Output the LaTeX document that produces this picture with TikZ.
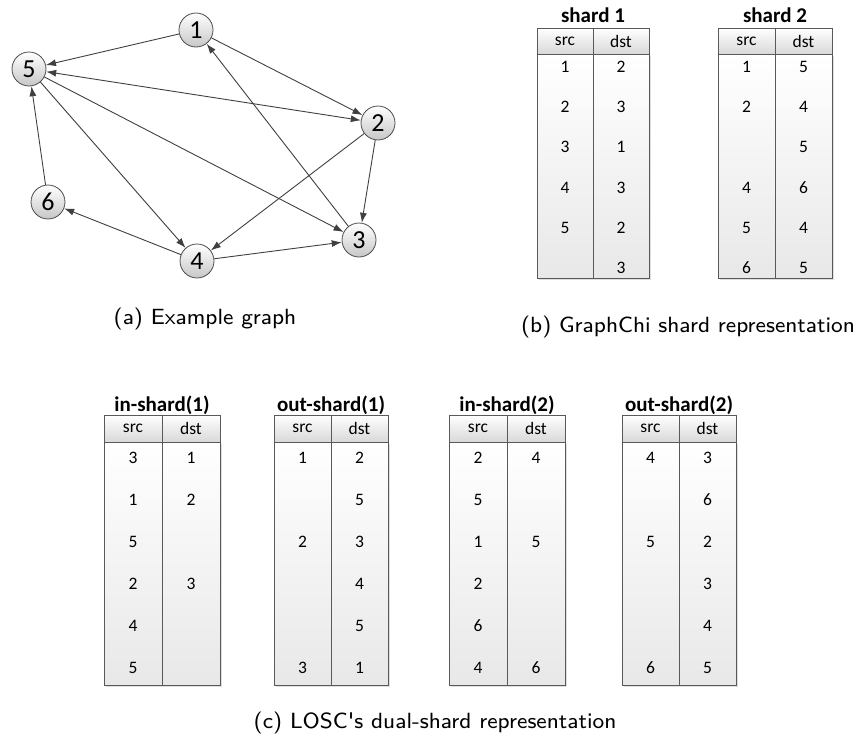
\documentclass[tikz,border=0pt]{standalone}
\usepackage{fontspec}
\setmainfont{Carlito}
\newfontfamily\capfont{lmsans8-regular.otf}
\usetikzlibrary{arrows.meta}
\usetikzlibrary{shadows}

\tikzset{
  vertex/.style={circle, draw=black!70, line width=0.8pt, top color=white, bottom color=black!22, minimum size=34pt, inner sep=0pt, font=\fontsize{26}{26}\selectfont},
  link/.style={draw=black!75, line width=0.9pt, ->},
  headcell/.style={draw=black!65, line width=1pt, top color=white, bottom color=black!15, minimum height=26pt, inner sep=0pt, font=\fontsize{17.5}{17.5}\selectfont},
  bodycol/.style={draw=black!65, line width=1pt, top color=white, bottom color=black!9, inner sep=0pt, drop shadow={shadow xshift=2pt, shadow yshift=-2pt, opacity=0.25}},
  cell/.style={inner sep=0pt, font=\fontsize{17.5}{17.5}\selectfont},
  shardtitle/.style={anchor=base, font=\bfseries\fontsize{21}{21}\selectfont},
  caption/.style={font=\capfont\fontsize{22}{22}\selectfont}
}

\begin{document}
\begin{tikzpicture}[x=1pt, y=-1pt, >={Latex[length=10pt,width=7pt]}]
                \useasboundingbox (0,0) rectangle (861,742);
                % example graph
                \node[vertex] (v1) at (196,30) {1};
                \node[vertex] (v5) at (29,69) {5};
                \node[vertex] (v2) at (378,123) {2};
                \node[vertex] (v6) at (48,202) {6};
                \node[vertex] (v3) at (359,240) {3};
                \node[vertex] (v4) at (197,261) {4};
                \draw[link] (v1) -- (v5);
                \draw[link] (v1) -- (v2);
                \draw[link, <->] (v5) -- (v2);
                \draw[link] (v2) -- (v3);
                \draw[link] (v2) -- (v4);
                \draw[link] (v3) -- (v1);
                \draw[link] (v4) -- (v3);
                \draw[link] (v4) -- (v6);
                \draw[link] (v5) -- (v3);
                \draw[link] (v5) -- (v4);
                \draw[link] (v6) -- (v5);
                \node[caption] (capa) at (205,319) {(a) Example graph};

                % shard 1
                \node[shardtitle] (s1title) at (593,22) {shard 1};
                \node[bodycol, minimum width=56pt, minimum height=224pt] (s1cs) at (565,166) {};
                \node[bodycol, minimum width=56pt, minimum height=224pt] (s1cd) at (621,166) {};
                \node[headcell, minimum width=56pt] (s1hs) at (565,41) {src};
                \node[headcell, minimum width=56pt] (s1hd) at (621,41) {dst};
                \node[cell] (s1src1) at (565,67) {1};
                \node[cell] (s1src2) at (565,107) {2};
                \node[cell] (s1src3) at (565,147) {3};
                \node[cell] (s1src4) at (565,188) {4};
                \node[cell] (s1src5) at (565,228) {5};
                \node[cell] (s1dst1) at (621,67) {2};
                \node[cell] (s1dst2) at (621,107) {3};
                \node[cell] (s1dst3) at (621,147) {1};
                \node[cell] (s1dst4) at (621,188) {3};
                \node[cell] (s1dst5) at (621,228) {2};
                \node[cell] (s1dst6) at (621,268) {3};

                % shard 2
                \node[shardtitle] (s2title) at (775,22) {shard 2};
                \node[bodycol, minimum width=57pt, minimum height=224pt] (s2cs) at (746.5,166) {};
                \node[bodycol, minimum width=57pt, minimum height=224pt] (s2cd) at (803.5,166) {};
                \node[headcell, minimum width=57pt] (s2hs) at (746.5,41) {src};
                \node[headcell, minimum width=57pt] (s2hd) at (803.5,41) {dst};
                \node[cell] (s2src1) at (746.5,67) {1};
                \node[cell] (s2src2) at (746.5,107) {2};
                \node[cell] (s2src4) at (746.5,188) {4};
                \node[cell] (s2src5) at (746.5,228) {5};
                \node[cell] (s2src6) at (746.5,268) {6};
                \node[cell] (s2dst1) at (803.5,67) {5};
                \node[cell] (s2dst2) at (803.5,107) {4};
                \node[cell] (s2dst3) at (803.5,147) {5};
                \node[cell] (s2dst4) at (803.5,188) {6};
                \node[cell] (s2dst5) at (803.5,228) {4};
                \node[cell] (s2dst6) at (803.5,268) {5};
                \node[caption] (capb) at (688,327) {(b) GraphChi shard representation};

                % in-shard(1)
                \node[shardtitle] (is1title) at (162,411) {in-shard(1)};
                \node[bodycol, minimum width=58pt, minimum height=243pt] (is1cs) at (133,563.5) {};
                \node[bodycol, minimum width=58pt, minimum height=243pt] (is1cd) at (191,563.5) {};
                \node[headcell, minimum width=58pt, minimum height=27pt] (is1hs) at (133,428.5) {src};
                \node[headcell, minimum width=58pt, minimum height=27pt] (is1hd) at (191,428.5) {dst};
                \node[cell] (is1src1) at (133,458) {3};
                \node[cell] (is1src2) at (133,500) {1};
                \node[cell] (is1src3) at (133,542) {5};
                \node[cell] (is1src4) at (133,584) {2};
                \node[cell] (is1src5) at (133,626) {4};
                \node[cell] (is1src6) at (133,668) {5};
                \node[cell] (is1dst1) at (191,458) {1};
                \node[cell] (is1dst2) at (191,500) {2};
                \node[cell] (is1dst4) at (191,584) {3};

                % out-shard(1)
                \node[shardtitle] (os1title) at (331,411) {out-shard(1)};
                \node[bodycol, minimum width=57pt, minimum height=243pt] (os1cs) at (302.5,563.5) {};
                \node[bodycol, minimum width=57pt, minimum height=243pt] (os1cd) at (359.5,563.5) {};
                \node[headcell, minimum width=57pt, minimum height=27pt] (os1hs) at (302.5,428.5) {src};
                \node[headcell, minimum width=57pt, minimum height=27pt] (os1hd) at (359.5,428.5) {dst};
                \node[cell] (os1src1) at (302.5,458) {1};
                \node[cell] (os1src3) at (302.5,542) {2};
                \node[cell] (os1src6) at (302.5,668) {3};
                \node[cell] (os1dst1) at (359.5,458) {2};
                \node[cell] (os1dst2) at (359.5,500) {5};
                \node[cell] (os1dst3) at (359.5,542) {3};
                \node[cell] (os1dst4) at (359.5,584) {4};
                \node[cell] (os1dst5) at (359.5,626) {5};
                \node[cell] (os1dst6) at (359.5,668) {1};

                % in-shard(2)
                \node[shardtitle] (is2title) at (507,411) {in-shard(2)};
                \node[bodycol, minimum width=58pt, minimum height=243pt] (is2cs) at (478,563.5) {};
                \node[bodycol, minimum width=58pt, minimum height=243pt] (is2cd) at (536,563.5) {};
                \node[headcell, minimum width=58pt, minimum height=27pt] (is2hs) at (478,428.5) {src};
                \node[headcell, minimum width=58pt, minimum height=27pt] (is2hd) at (536,428.5) {dst};
                \node[cell] (is2src1) at (478,458) {2};
                \node[cell] (is2src2) at (478,500) {5};
                \node[cell] (is2src3) at (478,542) {1};
                \node[cell] (is2src4) at (478,584) {2};
                \node[cell] (is2src5) at (478,626) {6};
                \node[cell] (is2src6) at (478,668) {4};
                \node[cell] (is2dst1) at (536,458) {4};
                \node[cell] (is2dst3) at (536,542) {5};
                \node[cell] (is2dst6) at (536,668) {6};

                % out-shard(2)
                \node[shardtitle] (os2title) at (679,411) {out-shard(2)};
                \node[bodycol, minimum width=57pt, minimum height=243pt] (os2cs) at (650.5,563.5) {};
                \node[bodycol, minimum width=57pt, minimum height=243pt] (os2cd) at (707.5,563.5) {};
                \node[headcell, minimum width=57pt, minimum height=27pt] (os2hs) at (650.5,428.5) {src};
                \node[headcell, minimum width=57pt, minimum height=27pt] (os2hd) at (707.5,428.5) {dst};
                \node[cell] (os2src1) at (650.5,458) {4};
                \node[cell] (os2src3) at (650.5,542) {5};
                \node[cell] (os2src6) at (650.5,668) {6};
                \node[cell] (os2dst1) at (707.5,458) {3};
                \node[cell] (os2dst2) at (707.5,500) {6};
                \node[cell] (os2dst3) at (707.5,542) {2};
                \node[cell] (os2dst4) at (707.5,584) {3};
                \node[cell] (os2dst5) at (707.5,626) {4};
                \node[cell] (os2dst6) at (707.5,668) {5};
                \node[caption] (capc) at (435,723) {(c) LOSC's dual-shard representation};
            \end{tikzpicture}
\end{document}
